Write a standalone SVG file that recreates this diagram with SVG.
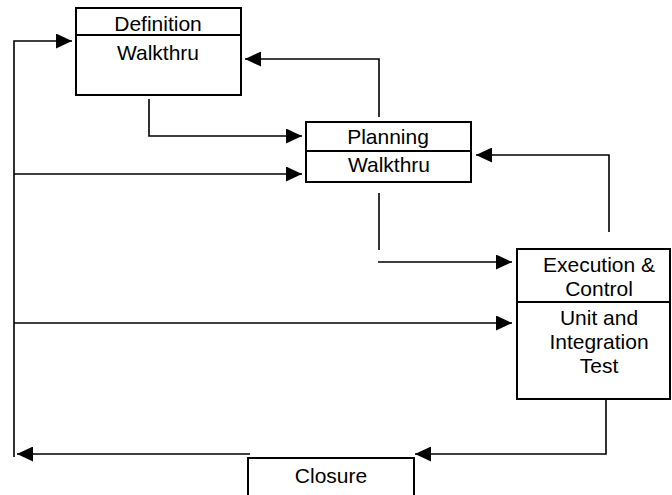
<svg xmlns="http://www.w3.org/2000/svg" width="672" height="495" viewBox="0 0 672 495">
<style>
.box{fill:#fff;stroke:#000;stroke-width:2}
.div{stroke:#000;stroke-width:2}
.lbl{font-family:"Liberation Sans",Arial,sans-serif;font-size:21px;fill:#000;text-anchor:middle}
.c{fill:none;stroke:#000;stroke-width:1.6}
.ca{fill:none;stroke:#000;stroke-width:1.6;marker-end:url(#ah)}
</style>
<defs>
<marker id="ah" markerUnits="userSpaceOnUse" markerWidth="16" markerHeight="15" refX="16" refY="7.5" orient="auto">
<path d="M0,0 L16,7.5 L0,15 z" fill="#000"/>
</marker>
</defs>
<rect width="672" height="495" fill="#fff"/>
<g id="connectors">
<path class="ca" d="M149,99 V136 H302"/>
<path class="ca" d="M379,117 V59 H245"/>
<path class="ca" d="M14,457 V41 H72"/>
<path class="ca" d="M14,174 H302"/>
<path class="ca" d="M14,323 H512"/>
<path class="c" d="M379,193 V250"/>
<path class="ca" d="M378,262 H512"/>
<path class="ca" d="M609,232 V155 H476"/>
<path class="ca" d="M606,392 V454 H415"/>
<path class="ca" d="M250,454 H17"/>
</g>
<g id="definition">
<rect class="box" x="76" y="8" width="165" height="87"/>
<line class="div" x1="76" y1="35" x2="241" y2="35"/>
<text class="lbl" x="158" y="30.5">Definition</text>
<text class="lbl" x="158" y="60">Walkthru</text>
</g>
<g id="planning">
<rect class="box" x="306" y="122" width="165" height="60"/>
<line class="div" x1="306" y1="151" x2="471" y2="151"/>
<text class="lbl" x="388" y="144">Planning</text>
<text class="lbl" x="389" y="172">Walkthru</text>
</g>
<g id="execution">
<rect class="box" x="517" y="249" width="153" height="150"/>
<line class="div" x1="517" y1="302" x2="670" y2="302"/>
<text class="lbl" x="599" y="272">Execution &amp;</text>
<text class="lbl" x="599" y="296">Control</text>
<text class="lbl" x="599" y="325">Unit and</text>
<text class="lbl" x="599" y="349">Integration</text>
<text class="lbl" x="599" y="373">Test</text>
</g>
<g id="closure">
<rect class="box" x="248" y="458" width="166" height="50"/>
<text class="lbl" x="331" y="483">Closure</text>
</g>
</svg>
